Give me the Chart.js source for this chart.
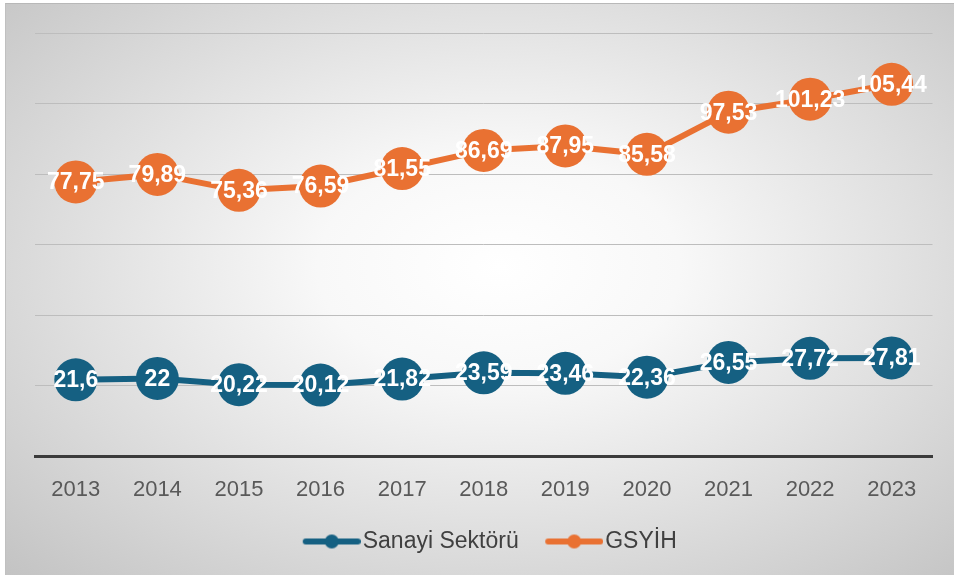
<!DOCTYPE html>
<html>
<head>
<meta charset="utf-8">
<script src="https://cdn.jsdelivr.net/npm/chart.js@4/dist/chart.umd.min.js"></script>
<style>
  html, body { margin: 0; padding: 0; background: #ffffff; }
  body { width: 954px; height: 575px; position: relative; overflow: hidden; }
  #box {
    position: absolute; left: 5px; top: 3px; width: 949px; height: 572px;
    background: radial-gradient(ellipse farthest-corner at 52% 46%, #ffffff 0%, #f8f8f8 26%, #dddddd 64%, #c3c3c3 100%);
    border-top: 1px solid #b8b8b8; border-left: 1px solid #c0c0c0; box-sizing: border-box;
  }
  canvas { display: block; }
</style>
</head>
<body>
<div id="box"><canvas id="c" width="948" height="571"></canvas></div>
<script>
const years = ['2013','2014','2015','2016','2017','2018','2019','2020','2021','2022','2023'];
const sanayi = [21.6, 22, 20.22, 20.12, 21.82, 23.59, 23.46, 22.36, 26.55, 27.72, 27.81];
const gsyih = [77.75, 79.89, 75.36, 76.59, 81.55, 86.69, 87.95, 85.58, 97.53, 101.23, 105.44];
const seriesNames = ['Sanayi Sektörü', 'GSYİH'];

const BLUE = '#156082';
const ORANGE = '#E97132';
const FONT = "'Liberation Sans', Arial, sans-serif";

// legend symbol: line with a dot, drawn at the right end of a wider transparent image
function legendIcon(color) {
  const L = 16;
  const c = document.createElement('canvas');
  c.width = 58 + L; c.height = 18;
  const g = c.getContext('2d');
  g.strokeStyle = color; g.lineWidth = 6; g.lineCap = 'round';
  g.beginPath(); g.moveTo(L + 3, 9); g.lineTo(L + 55, 9); g.stroke();
  g.fillStyle = color;
  g.beginPath(); g.arc(L + 29, 9, 7, 0, Math.PI * 2); g.fill();
  return c;
}

const fmt = v => String(v).replace('.', ',');

const labelPlugin = {
  id: 'pointLabels',
  afterDatasetsDraw(chart) {
    const ctx = chart.ctx;
    ctx.save();
    ctx.font = "bold 23px " + FONT;
    ctx.fillStyle = '#ffffff';
    ctx.textAlign = 'center';
    ctx.textBaseline = 'middle';
    chart.data.datasets.forEach((ds, i) => {
      const meta = chart.getDatasetMeta(i);
      meta.data.forEach((pt, j) => {
        ctx.fillText(fmt(ds.data[j]), pt.x, pt.y + 1);
      });
    });
    ctx.restore();
  }
};

new Chart(document.getElementById('c'), {
  type: 'line',
  data: {
    labels: years,
    datasets: [
      {
        label: seriesNames[0], data: sanayi,
        borderColor: BLUE, backgroundColor: BLUE, borderWidth: 6,
        pointStyle: 'circle',
        pointRadius: 21.5, pointHoverRadius: 21.5, pointBackgroundColor: BLUE, pointBorderColor: BLUE, pointBorderWidth: 0,
        tension: 0
      },
      {
        label: seriesNames[1], data: gsyih,
        borderColor: ORANGE, backgroundColor: ORANGE, borderWidth: 6,
        pointStyle: 'circle',
        pointRadius: 21.5, pointHoverRadius: 21.5, pointBackgroundColor: ORANGE, pointBorderColor: ORANGE, pointBorderWidth: 0,
        tension: 0
      }
    ]
  },
  options: {
    responsive: false,
    animation: false,
    events: [],
    layout: { padding: { left: 29, right: 16, top: 29, bottom: 12 } },
    scales: {
      x: {
        offset: true,
        grid: { display: false, drawTicks: false },
        border: { display: true, color: '#3b3b3b', width: 3 },
        ticks: { color: '#595959', font: { family: FONT, size: 22 }, padding: 21, maxRotation: 0 },
        afterFit(scale) { scale.height = 54; }
      },
      y: {
        min: 0, max: 120,
        ticks: { display: false, stepSize: 20 },
        grid: { drawTicks: false, color: ctx => ctx.tick && ctx.tick.value === 0 ? 'rgba(0,0,0,0)' : '#bdbdbd', lineWidth: 1 },
        border: { display: false }
      }
    },
    plugins: {
      tooltip: { enabled: false },
      legend: {
        position: 'bottom',
        labels: {
          usePointStyle: true,
          pointStyleWidth: 55,
          color: '#404040',
          font: { family: FONT, size: 23 },
          padding: 20,
          generateLabels(chart) {
            return chart.data.datasets.map((ds, i) => ({
              text: ds.label,
              fillStyle: ds.borderColor,
              strokeStyle: ds.borderColor,
              fontColor: '#404040',
              lineWidth: 0,
              pointStyle: legendIcon(ds.borderColor),
              hidden: false,
              datasetIndex: i
            }));
          }
        }
      }
    }
  },
  plugins: [labelPlugin]
});
</script>
</body>
</html>
